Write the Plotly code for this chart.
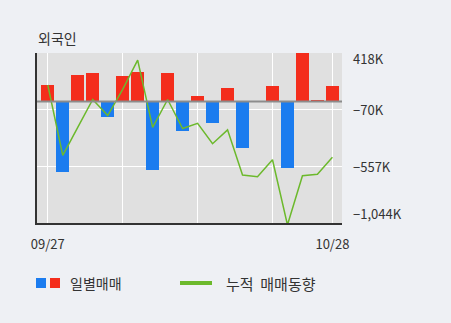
import plotly.graph_objects as go

# Trading days (2019-09-27 .. 2019-10-28)
dates = ["09/27", "09/30", "10/01", "10/02", "10/04", "10/07", "10/08", "10/10",
         "10/11", "10/14", "10/15", "10/16", "10/17", "10/18", "10/21", "10/22",
         "10/23", "10/24", "10/25", "10/28"]

# Daily net trading by foreigners (thousand shares)
daily = [143, -602, 231, 243, -134, 222, 251, -590, 243, -257,
         47, -187, 120, -397, 0, 137, -567, 430, 15, 137]

# Cumulative net trading (thousand shares)
cumulative = [143, -462, -222, 18, -120, 105, 357, -222, 18, -231,
              -187, -362, -243, -631, -646, -500, -1060, -637, -625, -479]

y_tick_vals = [418, -70, -557, -1044]
y_tick_text = ["418K", "−70K", "−557K", "−1,044K"]

x_tick_vals = ["09/27", "10/28"]
x_grid_vals = ["09/27", "10/07", "10/15", "10/22", "10/28"]

RED = "#f42d1c"
BLUE = "#1b7cef"
GREEN = "#6cb92c"
FONT = "Noto Sans CJK KR"
TXT = "#333333"

W, H = 451, 323
L, R, T, B = 37, 342, 53, 223


def px_x(px):
    return (px - L) / (R - L)


def px_y(py):
    return (B - py) / (B - T)


bar_colors = [RED if v >= 0 else BLUE for v in daily]

fig = go.Figure()
fig.add_trace(go.Bar(x=dates, y=daily, marker=dict(color=bar_colors, line=dict(width=0)),
                     width=0.86, showlegend=False))
fig.add_trace(go.Scatter(x=dates, y=cumulative, mode="lines",
                         line=dict(color=GREEN, width=1.5), showlegend=False))

fig.update_layout(
    width=W, height=H,
    margin=dict(l=L, r=W - R, t=T, b=H - B, pad=0),
    paper_bgcolor="#eef0f4",
    plot_bgcolor="#e0e0e0",
    font=dict(family=FONT, size=13, color=TXT),
    bargap=0,
)

fig.update_xaxes(
    type="category", categoryorder="array", categoryarray=dates,
    range=[-0.72, 19.64],
    tickmode="array", tickvals=x_grid_vals,
    ticktext=[d if d in x_tick_vals else "" for d in x_grid_vals],
    showgrid=True, gridcolor="#ffffff", gridwidth=1,
    ticks="outside", ticklen=8, tickcolor="rgba(0,0,0,0)",
    showline=True, linecolor="#333333", linewidth=2,
    tickfont=dict(family=FONT, size=13, color=TXT),
    fixedrange=True,
)
fig.update_yaxes(
    range=[-1044, 418],
    tickmode="array", tickvals=y_tick_vals, showticklabels=False,
    showgrid=True, gridcolor="#ffffff", gridwidth=1,
    zeroline=False,
    showline=True, linecolor="#333333", linewidth=2,
    fixedrange=True,
)

# zero baseline
fig.add_shape(type="line", xref="paper", yref="y", x0=0, x1=1, y0=0, y1=0,
              line=dict(color="#8c8c8c", width=2), layer="above")

# right-hand value labels (end labels pulled inside the plot height)
for v, t in zip(y_tick_vals, y_tick_text):
    if v == max(y_tick_vals):
        shift = -5
    elif v == min(y_tick_vals):
        shift = 10
    else:
        shift = 0
    fig.add_annotation(x=px_x(351), xref="paper", y=v, yref="y", text=t,
                       showarrow=False, xanchor="left", yanchor="middle", yshift=shift,
                       font=dict(family=FONT, size=13, color=TXT))

# title
fig.add_annotation(x=px_x(36), xref="paper", y=px_y(38), yref="paper", text="외국인",
                   showarrow=False, xanchor="left", yanchor="middle",
                   font=dict(family=FONT, size=14, color=TXT))

# legend
fig.add_shape(type="rect", xref="paper", yref="paper",
              x0=px_x(36), x1=px_x(46), y0=px_y(288), y1=px_y(278),
              fillcolor=BLUE, line=dict(width=0))
fig.add_shape(type="rect", xref="paper", yref="paper",
              x0=px_x(50), x1=px_x(60), y0=px_y(288), y1=px_y(278),
              fillcolor=RED, line=dict(width=0))
fig.add_annotation(x=px_x(68), xref="paper", y=px_y(283), yref="paper", text="일별매매",
                   showarrow=False, xanchor="left", yanchor="middle",
                   font=dict(family=FONT, size=14, color=TXT))
fig.add_shape(type="line", xref="paper", yref="paper",
              x0=px_x(180), x1=px_x(212), y0=px_y(283), y1=px_y(283),
              line=dict(color=GREEN, width=4))
fig.add_annotation(x=px_x(224), xref="paper", y=px_y(283), yref="paper", text="누적  매매동향",
                   showarrow=False, xanchor="left", yanchor="middle",
                   font=dict(family=FONT, size=15, color=TXT))

fig.write_html("out.html", config={"displayModeBar": False})
